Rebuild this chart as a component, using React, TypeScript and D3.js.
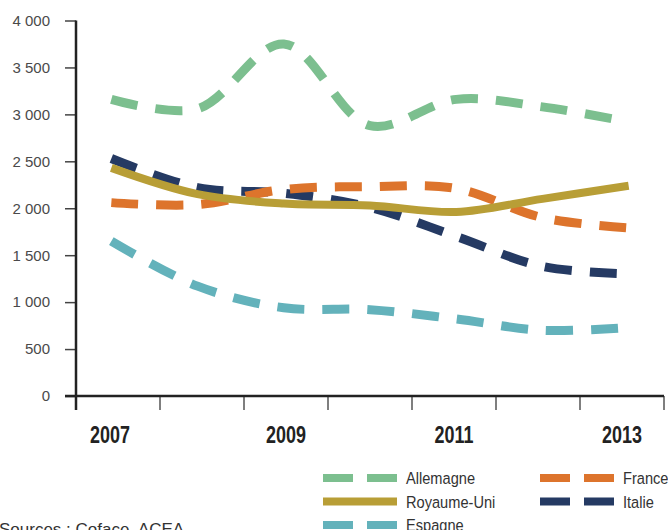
import React, { useEffect, useRef } from "react";
import * as d3 from "d3";

const years = ["2007", "2008", "2009", "2010", "2011", "2012", "2013"];
const labelYears = ["2007", "2009", "2011", "2013"];
const yTicks = [0, 500, 1000, 1500, 2000, 2500, 3000, 3500, 4000];

const allemagne = [3160, 3060, 3750, 2880, 3160, 3080, 2920];
const royaumeUni = [2430, 2150, 2050, 2030, 1960, 2100, 2240];
const france = [2060, 2040, 2200, 2230, 2210, 1900, 1790];
const italie = [2530, 2220, 2160, 2010, 1700, 1380, 1300];
const espagne = [1650, 1170, 940, 920, 820, 700, 730];

const seriesNames = ["Allemagne", "Royaume-Uni", "Espagne", "France", "Italie"];
const seriesValues = [allemagne, royaumeUni, espagne, france, italie];
const seriesColors = ["#7cbf8f", "#b89e36", "#63b2bb", "#dd742c", "#253a63"];
const seriesDashed = [true, false, true, true, true];

const App: React.FC = () => {
  const svgRef = useRef<SVGSVGElement | null>(null);

  useEffect(() => {
    const width = 668;
    const height = 530;
    const svg = d3.select(svgRef.current);
    svg.selectAll("*").remove();
    svg.attr("width", width).attr("height", height);

    // no narrow fonts installed: squeeze Liberation Sans horizontally
    const sans = "'Liberation Sans', Arial, sans-serif";

    const xBand = d3.scaleBand().domain(years).range([76, 664]);
    const x = d3.scalePoint().domain(years).range([76, 664]).padding(0.41);
    const y = d3.scaleLinear().domain([0, 4000]).range([396, 20.5]);

    const fmt = d3.formatLocale({
      decimal: ",",
      thousands: " ",
      grouping: [3],
      currency: ["", ""],
    }).format(",");

    // Y Axis
    svg
      .append("g")
      .attr("transform", `translate(76,0)`)
      .call(d3.axisLeft(y).tickValues(yTicks).tickSize(11).tickPadding(15).tickFormat(d => fmt(+d)))
      .call(g => g.select(".domain").remove())
      .call(g => g.selectAll("line").attr("stroke", "#444").attr("stroke-width", 1.5))
      .call(g =>
        g
          .selectAll("text")
          .attr("fill", "#4a4a4a")
          .attr("font-family", sans)
          .attr("font-size", 15)
      );

    // X ticks (band edges)
    const edges = [...years.map(yr => xBand(yr)!), xBand.range()[1]];
    svg
      .append("g")
      .selectAll("line")
      .data(edges)
      .join("line")
      .attr("x1", d => d)
      .attr("x2", d => d)
      .attr("y1", y(0))
      .attr("y2", y(0) + 14)
      .attr("stroke", "#555")
      .attr("stroke-width", 1.5);

    // axis lines
    svg
      .append("line")
      .attr("x1", 76)
      .attr("x2", 76)
      .attr("y1", y(4000))
      .attr("y2", y(0) + 14)
      .attr("stroke", "#222")
      .attr("stroke-width", 2.5);
    svg
      .append("line")
      .attr("x1", 65)
      .attr("x2", xBand.range()[1])
      .attr("y1", y(0))
      .attr("y2", y(0))
      .attr("stroke", "#222")
      .attr("stroke-width", 2.5);

    // year labels
    svg
      .append("g")
      .selectAll("text")
      .data(labelYears)
      .join("text")
      .attr("transform", d => `translate(${xBand(d)! + xBand.bandwidth() / 2 - (d === "2007" ? 8 : 0)},443) scale(0.78,1)`)
      .attr("text-anchor", "middle")
      .attr("font-family", sans)
      .attr("font-weight", "bold")
      .attr("font-size", 23)
      .attr("fill", "#222")
      .text(d => d);

    // Lines
    const line = d3
      .line<number>()
      .x((_, i) => x(years[i])!)
      .y(d => y(d))
      .curve(d3.curveCatmullRom.alpha(0.5));

    const order = [4, 3, 1, 2, 0];
    order.forEach(i => {
      svg
        .append("path")
        .attr("d", line(seriesValues[i]))
        .attr("fill", "none")
        .attr("stroke", seriesColors[i])
        .attr("stroke-width", seriesDashed[i] ? 9 : 8)
        .attr("stroke-dasharray", seriesDashed[i] ? "27,18" : null);
    });

    // Legend
    const legend = svg.append("g");
    seriesNames.forEach((name, i) => {
      const col = i < 3 ? 0 : 1;
      const row = i < 3 ? i : i - 3;
      const lx = col === 0 ? 323 : 540;
      const ly = 478 + row * 23.5;
      legend
        .append("line")
        .attr("x1", lx)
        .attr("x2", lx + 74)
        .attr("y1", ly)
        .attr("y2", ly)
        .attr("stroke", seriesColors[i])
        .attr("stroke-width", 8)
        .attr("stroke-dasharray", seriesDashed[i] ? "30,14" : null);
      legend
        .append("text")
        .attr("transform", `translate(${lx + 83},${ly + 6}) scale(0.86,1)`)
        .attr("font-family", sans)
        .attr("font-size", 17)
        .attr("fill", "#333")
        .text(name);
    });

    // Source
    svg
      .append("text")
      .attr("x", -1)
      .attr("y", 535)
      .attr("font-family", sans)
      .attr("font-size", 17)
      .attr("fill", "#333")
      .text("Sources : Coface, ACEA");
  }, []);

  return <svg ref={svgRef} style={{ position: "absolute", left: 0, top: 0 }}></svg>;
};

export default App;
